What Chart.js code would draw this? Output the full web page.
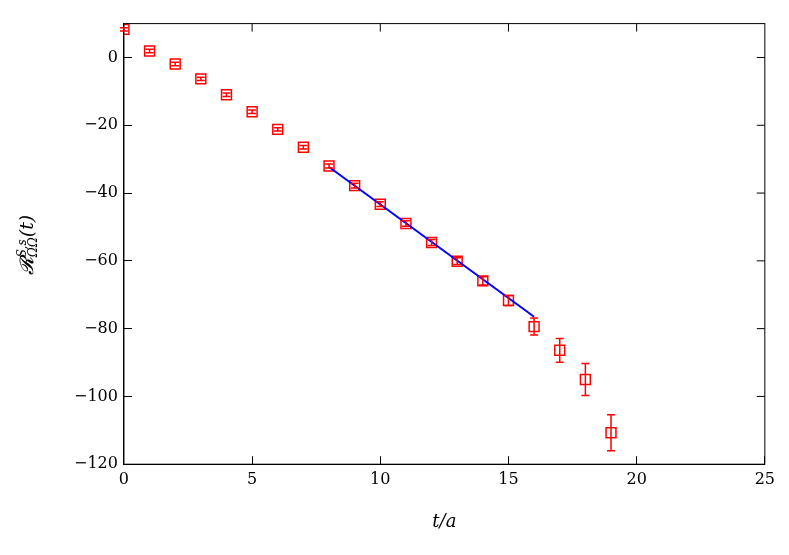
<!DOCTYPE html>
<html><head><meta charset="utf-8">
<script src="https://cdn.jsdelivr.net/npm/chart.js@4"></script>
<style>body{margin:0;background:#fff}#w{width:789px;height:555px;position:relative}
#yl{position:absolute;top:230px;left:-30px;width:120px;height:30px;transform:rotate(-90deg);font-family:'DejaVu Serif',serif;font-size:19px;font-style:italic;text-align:center;white-space:nowrap}
.ss{display:inline-block;vertical-align:middle;line-height:11px;font-size:12px;text-align:left}
</style></head><body><div id="w"><canvas id="c" width="789" height="555"></canvas>
<div id="yl">𝓡<span class="ss">S,s<br>ΩΩ</span>(t)</div></div>
<script>
const tVals=[0,1,2,3,4,5,6,7,8,9,10,11,12,13,14,15,16,17,18,19];
const rVals=[8.3,1.9,-1.9,-6.3,-11,-16,-21.2,-26.5,-32,-37.8,-43.3,-49,-54.6,-60.1,-65.9,-71.7,-79.4,-86.4,-95,-110.7];
const rErr=[0.5,0.5,0.5,0.5,0.5,0.5,0.5,0.5,0.6,0.7,0.7,0.8,0.9,1,1.2,1.5,2.5,3.5,4.7,5.3];
const fitT=[8,16];
const fitR=[-32.3,-76.5];
const errPlugin={id:'err',afterDatasetsDraw(ch){const x=ch.scales.x,y=ch.scales.y,c=ch.ctx,a=ch.chartArea;c.save();
c.strokeStyle='#000';c.lineWidth=1;c.strokeRect(a.left,a.top,a.right-a.left,a.bottom-a.top);
[5,10,15,20].forEach(v=>{const p=x.getPixelForValue(v);c.beginPath();c.moveTo(p,a.top);c.lineTo(p,a.top+8);c.stroke();});
[0,-20,-40,-60,-80,-100].forEach(v=>{const p=y.getPixelForValue(v);c.beginPath();c.moveTo(a.right,p);c.lineTo(a.right-8,p);c.stroke();});
c.strokeStyle='#f00';c.lineWidth=1.5;
tVals.forEach((t,i)=>{const px=x.getPixelForValue(t),y1=y.getPixelForValue(rVals[i]+rErr[i]),y2=y.getPixelForValue(rVals[i]-rErr[i]);
c.beginPath();c.moveTo(px,y1);c.lineTo(px,y2);c.moveTo(px-4,y1);c.lineTo(px+4,y1);c.moveTo(px-4,y2);c.lineTo(px+4,y2);c.stroke();});c.restore();}};
new Chart(document.getElementById('c'),{type:'scatter',data:{datasets:[
{data:fitT.map((t,i)=>({x:t,y:fitR[i]})),showLine:true,borderColor:'#00f',borderWidth:2,pointRadius:0},
{data:tVals.map((t,i)=>({x:t,y:rVals[i]})),pointStyle:'rect',pointRadius:7,borderColor:'#f00',backgroundColor:'rgba(0,0,0,0)',borderWidth:1.5}
]},plugins:[errPlugin],options:{responsive:false,animation:false,
layout:{padding:{left:60,right:15,top:5,bottom:18}},
plugins:{legend:{display:false},tooltip:{enabled:false}},
scales:{x:{type:'linear',min:0,max:25,ticks:{stepSize:5,padding:14,color:'#000',font:{family:'DejaVu Serif',size:16}},grid:{drawOnChartArea:false,tickLength:-8,color:'#000'},border:{color:'#000'},
title:{display:true,text:'t/a',padding:{top:8},color:'#000',font:{family:'DejaVu Serif',size:18,style:'italic'}}},
y:{min:-120,max:10,afterBuildTicks(a){a.ticks=[0,-20,-40,-60,-80,-100,-120].map(v=>({value:v}));},ticks:{padding:14,color:'#000',font:{family:'DejaVu Serif',size:16},callback:v=>v<0?'−'+(-v):v},grid:{drawOnChartArea:false,tickLength:-8,color:'#000'},border:{color:'#000'}}}}});
</script></body></html>
